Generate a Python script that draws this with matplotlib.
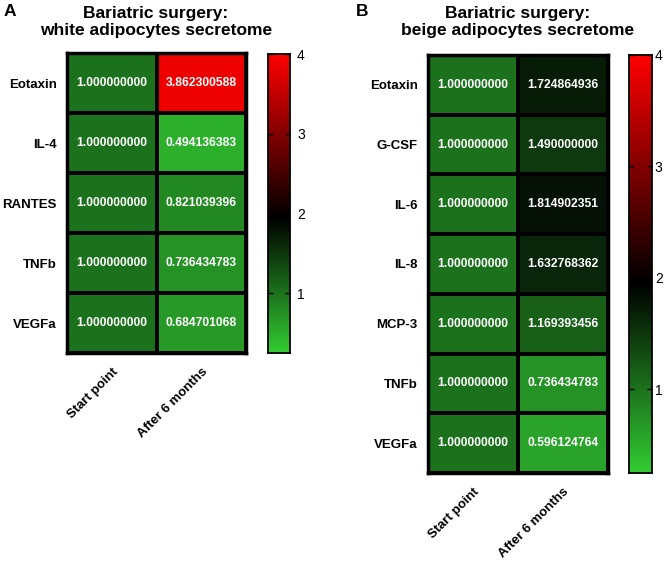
import numpy as np
import matplotlib
matplotlib.use("Agg")
import matplotlib.pyplot as plt
from matplotlib.colors import LinearSegmentedColormap, Normalize

plt.rcParams['font.family'] = ['Liberation Sans', 'DejaVu Sans']

cols = ['Start point', 'After 6 months']

white_rows = ['Eotaxin', 'IL-4', 'RANTES', 'TNFb', 'VEGFa']
white_start = [1.0, 1.0, 1.0, 1.0, 1.0]
white_after = [3.862300588, 0.494136383, 0.821039396, 0.736434783, 0.684701068]

beige_rows = ['Eotaxin', 'G-CSF', 'IL-6', 'IL-8', 'MCP-3', 'TNFb', 'VEGFa']
beige_start = [1.0, 1.0, 1.0, 1.0, 1.0, 1.0, 1.0]
beige_after = [1.724864936, 1.490000000, 1.814902351, 1.632768362,
               1.169393456, 0.736434783, 0.596124764]

vmin, vmid, vmax = 0.25, 1.95, 4.0
cbar_ticks = [1, 2, 3, 4]

frac = (vmid - vmin) / (vmax - vmin)
cmap = LinearSegmentedColormap.from_list(
    'gkr', [(0.0, '#33cc33'), (frac, '#000000'), (1.0, '#ff0000')])
norm = Normalize(vmin=vmin, vmax=vmax)

W, H = 669, 563
fig = plt.figure(figsize=(W / 100, H / 100), dpi=100)


def px_axes(x0, y0, x1, y1):
    return fig.add_axes([x0 / W, 1 - y1 / H, (x1 - x0) / W, (y1 - y0) / H])


def draw_panel(ax, cax, rows, start, after, letter, title, lx, tx, cpad):
    data = np.column_stack([start, after])
    n = len(rows)
    ax.pcolormesh(data, cmap=cmap, norm=norm, edgecolors='black', linewidth=1.5)
    ax.set_xlim(0, 2)
    ax.set_ylim(n, 0)
    for i in range(n):
        for j in range(2):
            ax.text(j + 0.5, i + 0.5, f"{data[i, j]:.9f}", ha='center', va='center',
                    color='white', fontsize=8.7, fontweight='bold')
    ax.set_yticks(np.arange(n) + 0.5)
    ax.set_yticklabels(rows, fontsize=9.5, fontweight='bold')
    ax.set_xticks([0.5, 1.5])
    ax.set_xticklabels(cols, fontsize=9.5, fontweight='bold', rotation=45,
                       ha='right', va='top', rotation_mode='anchor')
    ax.tick_params(axis='y', length=0, pad=7.5)
    ax.tick_params(axis='x', length=0, pad=9)
    for s in ax.spines.values():
        s.set_linewidth(2.5)

    grad = np.linspace(vmin, vmax, 256).reshape(-1, 1)
    cax.imshow(grad, cmap=cmap, norm=norm, aspect='auto', origin='lower',
               extent=[0, 1, vmin, vmax])
    cax.set_xticks([])
    cax.set_yticks(cbar_ticks)
    cax.set_ylim(vmin, vmax)
    cax.yaxis.tick_right()
    cax.tick_params(axis='y', direction='in', length=3.5, width=1,
                    left=True, right=True, labelsize=10, pad=cpad)
    for s in cax.spines.values():
        s.set_linewidth(1.3)

    fig.text(lx / W, 1 - 12 / H, letter, fontsize=12.5, fontweight='bold',
             ha='left', va='center')
    fig.text(tx / W, 1 - 22 / H, title, fontsize=12.5, fontweight='bold',
             ha='center', va='center', linespacing=1.2)


ax1 = px_axes(67, 53, 246, 353)
cax1 = px_axes(268, 54, 290, 353)
draw_panel(ax1, cax1, white_rows, white_start, white_after, 'A',
           'Bariatric surgery:\nwhite adipocytes secretome', 4, 156, 5)

ax2 = px_axes(428, 55, 608, 473)
cax2 = px_axes(629, 55, 652, 473)
draw_panel(ax2, cax2, beige_rows, beige_start, beige_after, 'B',
           'Bariatric surgery:\nbeige adipocytes secretome', 356, 518, 2)

fig.savefig('out.png', dpi=100)
